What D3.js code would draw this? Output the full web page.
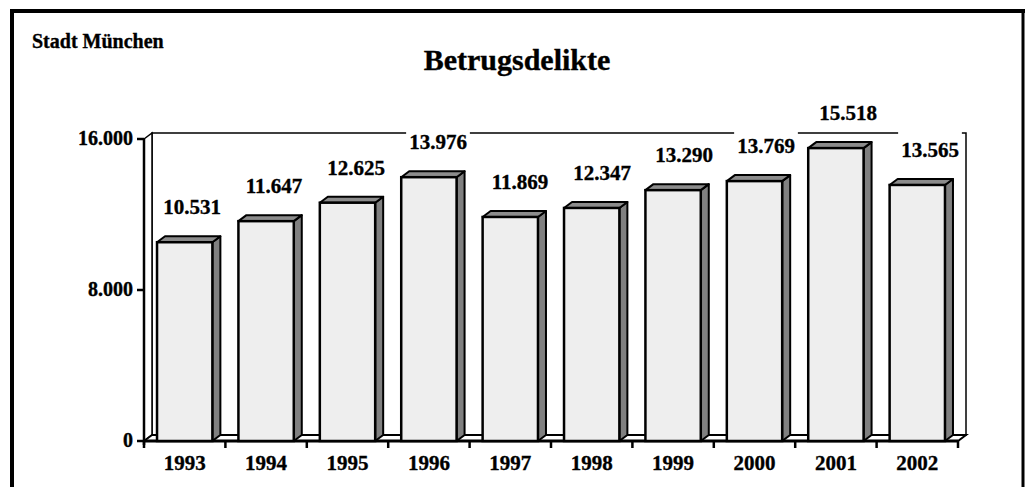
<!DOCTYPE html>
<html>
<head>
<meta charset="utf-8">
<script src="https://cdn.jsdelivr.net/npm/d3@7"></script>
<style>
    body { margin: 0; background: #fff; }
    text { font-family: "Liberation Serif", "Times New Roman", serif; font-weight: 700; fill: #000; stroke: #000; stroke-width: 0.35px; }
</style>
</head>
<body>
<div id="chart"></div>
<script>
//Datos
const years = ['1993', '1994', '1995', '1996', '1997', '1998', '1999', '2000', '2001', '2002'];
const values = [10531, 11647, 12625, 13976, 11869, 12347, 13290, 13769, 15518, 13565];
const yTicks = [0, 8000, 16000];
const title = 'Betrugsdelikte';
const subtitle = 'Stadt München';

//Colores fijos
const COLOR_FRONT = '#eeeeee',
COLOR_SIDE = '#808080',
COLOR_TOP = '#8c8c8c';

let fmt = function(v) { return d3.format(',')(v).replace(/,/g, '.'); };

let width = 1026, height = 487;
let dx = 8, dy = -6;

let svg = d3.select('#chart')
    .append('svg')
        .attr('width', width)
        .attr('height', height);

svg.append('rect').attr('width', width).attr('height', height).attr('fill', '#fff');

//Marco
svg.append('line').attr('x1', 12).attr('x2', 12).attr('y1', 9).attr('y2', height + 5)
    .attr('stroke', '#000').attr('stroke-width', 4);
svg.append('line').attr('x1', 10).attr('x2', 1025).attr('y1', 11).attr('y2', 11)
    .attr('stroke', '#000').attr('stroke-width', 4);
svg.append('line').attr('x1', 1023).attr('x2', 1023).attr('y1', 9).attr('y2', height + 5)
    .attr('stroke', '#000').attr('stroke-width', 3);

//Títulos
svg.append('text').attr('x', 32).attr('y', 48).style('font-size', '20px').text(subtitle);
svg.append('text').attr('x', 517).attr('y', 70).attr('text-anchor', 'middle')
    .style('font-size', '30px').text(title);

//Escalas
let x = d3.scaleBand()
    .domain(years)
    .range([144, 958])
    .paddingInner(0)
    .paddingOuter(0);

let xLabel = d3.scaleBand()
    .domain(years)
    .range([151, 971]);

let y = d3.scaleLinear()
    .domain([0, 16000])
    .range([441, 139]);

let x0 = x.range()[0], x1 = x.range()[1];
let yb = y(0), yt = y(16000);

let g = svg.append('g');

//Pared trasera
g.append('rect')
    .attr('x', x0 + dx)
    .attr('y', yt + dy)
    .attr('width', x1 - x0)
    .attr('height', yb - yt)
    .attr('fill', '#fff')
    .attr('stroke', '#000')
    .attr('stroke-width', 1.5);

//Pared lateral
g.append('path')
    .attr('d', 'M' + x0 + ',' + yt + 'L' + (x0 + dx) + ',' + (yt + dy) + 'L' + (x0 + dx) + ',' + (yb + dy) + 'L' + x0 + ',' + yb + 'Z')
    .attr('fill', '#fff')
    .attr('stroke', '#000')
    .attr('stroke-width', 1.5);

//Suelo
g.append('path')
    .attr('d', 'M' + x0 + ',' + yb + 'L' + x1 + ',' + yb + 'L' + (x1 + dx) + ',' + (yb + dy) + 'L' + (x0 + dx) + ',' + (yb + dy) + 'Z')
    .attr('fill', '#fff')
    .attr('stroke', '#000')
    .attr('stroke-width', 2);

g.append('line')
    .attr('x1', x0).attr('x2', x1).attr('y1', yb).attr('y2', yb)
    .attr('stroke', '#000').attr('stroke-width', 3);

//Eje Y
g.append('line')
    .attr('x1', x0).attr('x2', x0).attr('y1', yt).attr('y2', yb + 4)
    .attr('stroke', '#000').attr('stroke-width', 2.5);

g.selectAll('.ytick')
    .data(yTicks)
    .enter()
    .append('line')
    .attr('class', 'ytick')
    .attr('x1', x0 - 7).attr('x2', x0)
    .attr('y1', function(d) { return y(d); })
    .attr('y2', function(d) { return y(d); })
    .attr('stroke', '#000').attr('stroke-width', 2.5);

g.selectAll('.ylabel')
    .data(yTicks)
    .enter()
    .append('text')
    .attr('class', 'ylabel')
    .attr('x', x0 - 11)
    .attr('y', function(d) { return y(d) + 6; })
    .attr('text-anchor', 'end')
    .style('font-size', '20px')
    .text(function(d) { return fmt(d); });

//Eje X
let xTickPos = years.map(function(d) { return x(d); }).concat([x1]);
g.selectAll('.xtick')
    .data(xTickPos)
    .enter()
    .append('line')
    .attr('class', 'xtick')
    .attr('x1', function(d) { return d; })
    .attr('x2', function(d) { return d; })
    .attr('y1', yb).attr('y2', yb + 7)
    .attr('stroke', '#000').attr('stroke-width', 2.5);

g.selectAll('.xlabel')
    .data(years)
    .enter()
    .append('text')
    .attr('class', 'xlabel')
    .attr('x', function(d) { return x(d) + x.bandwidth() / 2; })
    .attr('y', 470)
    .attr('text-anchor', 'middle')
    .style('font-size', '21px')
    .text(function(d) { return d; });

//Barras
let data = years.map(function(d, i) { return { year: d, value: values[i] }; });
let bw = x.bandwidth() * 0.68;

let bars = g.selectAll('.bar')
    .data(data)
    .enter()
    .append('g')
    .attr('class', 'bar');

bars.append('path')
    .attr('d', function(d) {
        let l = x(d.year) + (x.bandwidth() - bw) / 2, r = l + bw, t = y(d.value);
        return 'M' + r + ',' + t + 'L' + (r + dx) + ',' + (t + dy) + 'L' + (r + dx) + ',' + (yb + dy) + 'L' + r + ',' + yb + 'Z';
    })
    .attr('fill', COLOR_SIDE)
    .attr('stroke', '#000')
    .attr('stroke-width', 2)
    .attr('stroke-linejoin', 'round');

bars.append('path')
    .attr('d', function(d) {
        let l = x(d.year) + (x.bandwidth() - bw) / 2, r = l + bw, t = y(d.value);
        return 'M' + l + ',' + t + 'L' + (l + dx) + ',' + (t + dy) + 'L' + (r + dx) + ',' + (t + dy) + 'L' + r + ',' + t + 'Z';
    })
    .attr('fill', COLOR_TOP)
    .attr('stroke', '#000')
    .attr('stroke-width', 2)
    .attr('stroke-linejoin', 'round');

bars.append('rect')
    .attr('x', function(d) { return x(d.year) + (x.bandwidth() - bw) / 2; })
    .attr('y', function(d) { return y(d.value); })
    .attr('width', bw)
    .attr('height', function(d) { return yb - y(d.value); })
    .attr('fill', COLOR_FRONT)
    .attr('stroke', '#000')
    .attr('stroke-width', 2.5);

//Etiquetas de valor con fondo blanco
let labels = g.selectAll('.vlabel')
    .data(data)
    .enter()
    .append('g')
    .attr('class', 'vlabel');

labels.append('text')
    .attr('x', function(d) { return xLabel(d.year) + xLabel.bandwidth() / 2; })
    .attr('y', function(d) { return y(d.value) - 28; })
    .attr('text-anchor', 'middle')
    .style('font-size', '21px')
    .text(function(d) { return fmt(d.value); });

labels.each(function() {
    let t = d3.select(this).select('text');
    let w = t.node().getComputedTextLength();
    let cx = +t.attr('x'), by = +t.attr('y');
    d3.select(this).insert('rect', 'text')
        .attr('x', cx - w / 2 - 3)
        .attr('y', by - 26)
        .attr('width', w + 6)
        .attr('height', 31)
        .attr('fill', '#fff');
});
</script>
</body>
</html>
